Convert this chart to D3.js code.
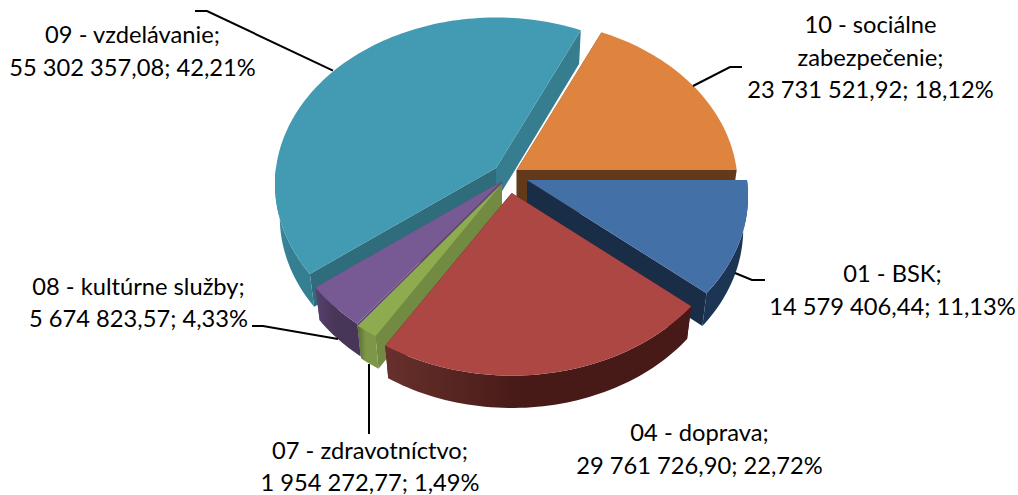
<!DOCTYPE html>
<html>
<head>
<meta charset="utf-8">
<script src="https://cdn.jsdelivr.net/npm/d3@7"></script>
<style>
    html, body { margin: 0; padding: 0; background: #fff; }
    svg { display: block; }
    text { font-family: Lato, "Open Sans", sans-serif; font-size: 23.7px; fill: #000; text-anchor: middle; }
</style>
</head>
<body>
<div id="chart"></div>
<script>
var categories = [
    ["01 - BSK;"],
    ["04 - doprava;"],
    ["07 - zdravotníctvo;"],
    ["08 - kultúrne služby;"],
    ["09 - vzdelávanie;"],
    ["10 - sociálne", "zabezpečenie;"]
];
var amounts = [14579406.44, 29761726.90, 1954272.77, 5674823.57, 55302357.08, 23731521.92];

// look of each slice, same order as categories
var topColors = ["#4470a8", "#ad4744", "#8fab50", "#775a93", "#429bb2", "#de843e"];
var wallStartColors = ["#63391b", "#4a1a18", "#728a42", "#5f4776", "#2f6c7c", "#63391b"];
var wallEndColors = ["#1a2d47", "#4a1a18", "#728a42", "#5f4776", "#367d90", "#63391b"];
var rimLeft = ["#1c3554", "#67302c", "#5a6f30", "#57416f", "#3a8a9e", "#63391b"];
var rimRight = ["#1c3554", "#471a17", "#7d9648", "#483658", "#357f92", "#63391b"];
// where each exploded slice has its tip
var tipX = [527, 511.7, 502, 501.5, 496, 516.7];
var tipY = [180, 193, 183.5, 181.5, 168, 170];
// back to front
var drawOrder = [5, 4, 0, 3, 2, 1];

var labelX = [892.5, 699.5, 370, 138.5, 132.5, 870.5];
var labelY = [282, 441, 458.5, 294.5, 43, 33];
var leaders = [
    [[735, 273], [752, 280], [765, 280]],
    [],
    [[369, 364], [369, 434]],
    [[252, 326], [263, 326], [338, 339]],
    [[333, 70.7], [207, 11], [195, 11]],
    [[693, 86], [730, 67], [742, 67]]
];

var width = 1018, height = 495;
var radiusX = 220, radiusY = 165, persp = 0.0964, wallDrop = 34, wallShrink = 0.022, lineGap = 32.7;

var svg = d3.select("#chart").append("svg").attr("width", width).attr("height", height);
var defs = svg.append("defs");
var number = d3.formatLocale({ decimal: ",", thousands: " ", grouping: [3], currency: ["", ""] }).format(",.2f");
var total = d3.sum(amounts);

var pie = d3.pie().sort(null).startAngle(Math.PI / 2).endAngle(Math.PI * 2.5);
var arcs = pie(amounts);
var path = d3.line();

// perspective projection of a disc point, level 0 is the top face and 1 the bottom one
function project(i, a, r, level) {
    var u = Math.sin(a) * r, v = Math.cos(a) * r;
    var w = 1 + persp * v + wallShrink * level;
    return [tipX[i] + radiusX * u / w, tipY[i] + (-radiusY * v + wallDrop * level) / w];
}

function rimPoints(i, a0, a1, level) {
    var n = Math.max(2, Math.ceil((a1 - a0) * 40));
    return d3.range(n + 1).map(function (k) {
        return project(i, a0 + (a1 - a0) * k / n, 1, level);
    });
}

function radialWall(g, i, a, color) {
    g.append("path")
        .attr("d", path([project(i, a, 0, 0), project(i, a, 1, 0), project(i, a, 1, 1), project(i, a, 0, 1)]) + "Z")
        .attr("fill", color);
}

drawOrder.forEach(function (i) {
    var d = arcs[i];
    var g = svg.append("g");
    radialWall(g, i, d.startAngle, wallStartColors[i]);
    radialWall(g, i, d.endAngle, wallEndColors[i]);

    // outer wall, only the part turned to the viewer
    var a0 = Math.max(d.startAngle, Math.PI / 2), a1 = Math.min(d.endAngle, Math.PI * 1.5);
    if (a1 > a0) {
        var front = rimPoints(i, a0, a1, 0), back = rimPoints(i, a0, a1, 1).reverse();
        var grad = defs.append("linearGradient").attr("id", "rim" + i)
            .attr("gradientUnits", "userSpaceOnUse")
            .attr("x1", d3.min(front, function (p) { return p[0]; }))
            .attr("x2", d3.max(front, function (p) { return p[0]; }))
            .attr("y1", 0).attr("y2", 0);
        grad.append("stop").attr("offset", 0).attr("stop-color", rimLeft[i]);
        grad.append("stop").attr("offset", 0.45).attr("stop-color", rimRight[i]);
        g.append("path").attr("d", path(front.concat(back)) + "Z").attr("fill", "url(#rim" + i + ")");
    }

    g.append("path")
        .attr("d", path([project(i, 0, 0, 0)].concat(rimPoints(i, d.startAngle, d.endAngle, 0))) + "Z")
        .attr("fill", topColors[i]);
});

leaders.forEach(function (pts) {
    if (pts.length) {
        svg.append("path").attr("d", path(pts)).attr("fill", "none").attr("stroke", "#000").attr("stroke-width", 2);
    }
});

categories.forEach(function (lines, i) {
    var pct = number(amounts[i] / total * 100);
    var t = svg.append("text").attr("x", labelX[i]).attr("y", labelY[i]);
    lines.concat([number(amounts[i]) + "; " + pct + "%"]).forEach(function (s, k) {
        t.append("tspan").attr("x", labelX[i]).attr("y", labelY[i] + k * lineGap).text(s);
    });
});
</script>
</body>
</html>
